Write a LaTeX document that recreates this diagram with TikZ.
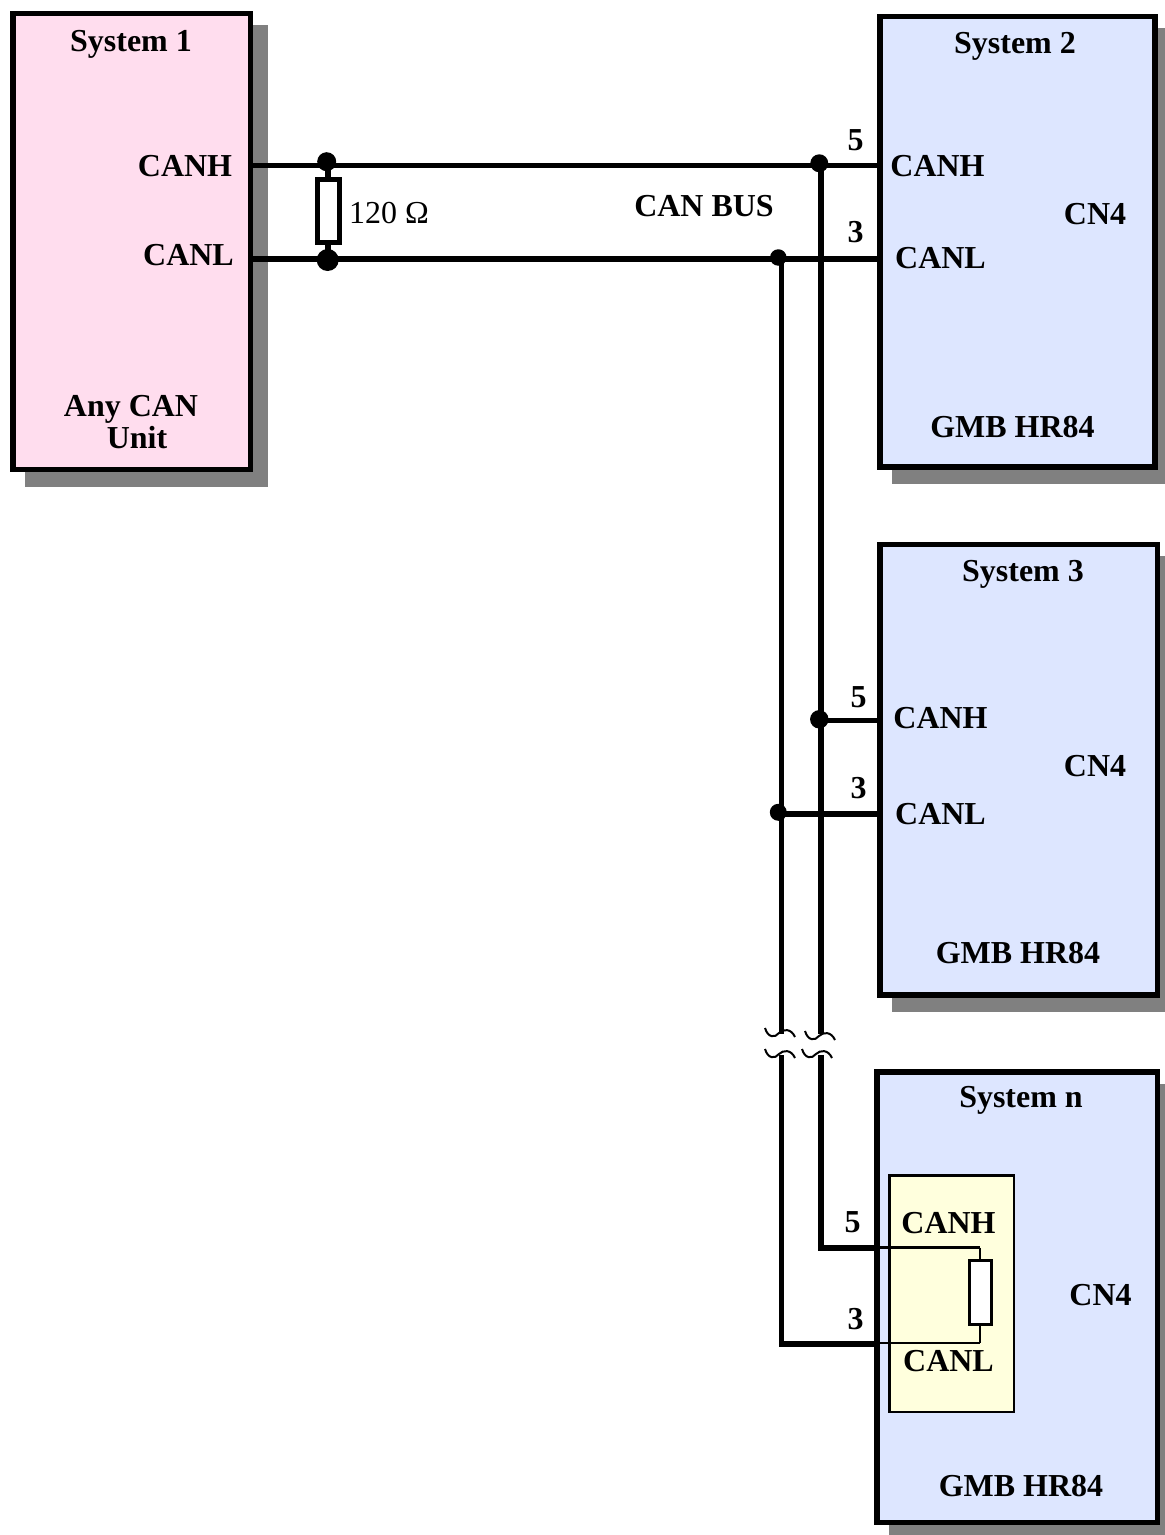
\documentclass[tikz,border=0pt]{standalone}
\usepackage{fontspec}
\setmainfont{Liberation Serif}
\usetikzlibrary{shadows}

\definecolor{sysone}{HTML}{FFDDEE}
\definecolor{sysblue}{HTML}{DDE6FF}
\definecolor{termbox}{HTML}{FFFFDD}

\tikzset{
  sysbox/.style={draw, line width=0.11cm, inner sep=0pt, outer sep=0pt, drop shadow={shadow xshift=0.29cm, shadow yshift=-0.29cm, draw=black!50, fill=black!50, line width=0.11cm, opacity=1}},
  wire/.style={line width=0.11cm},
  thinwire/.style={line width=0.055cm},
  dot/.style={circle, fill=black, inner sep=0pt, minimum size=0.36cm},
  res/.style={draw, fill=white, inner sep=0pt, outer sep=0pt},
  lab/.style={inner sep=0pt, font=\bfseries\fontsize{18.2}{18.2}\selectfont},
  brk/.style={line width=0.04cm}
}

\begin{document}
\begin{tikzpicture}[x=0.02cm, y=-0.02cm]
\useasboundingbox (0,0) rectangle (1165,1535);

\node[sysbox, fill=sysone, minimum width=4.75cm, minimum height=9.12cm] (sys1) at (131.75,241.5) {};
\node[sysbox, fill=sysblue, minimum width=5.51cm, minimum height=9.01cm] (sys2) at (1017.5,241.75) {};
\node[sysbox, fill=sysblue, minimum width=5.55cm, minimum height=9.01cm] (sys3) at (1018.75,769.75) {};
\node[sysbox, fill=sysblue, minimum width=5.61cm, minimum height=9.01cm] (sysn) at (1017.25,1297.25) {};
\node[draw, fill=termbox, line width=0.055cm, inner sep=0pt, outer sep=0pt, minimum width=2.49cm, minimum height=4.73cm] (term) at (951.75,1293.75) {};

% bus
\coordinate (canh1) at (250,165.5);
\coordinate (canl1) at (250,259);
\coordinate (canh3) at (821,720.5);
\coordinate (canl3) at (781,814);
\coordinate (brkh1) at (821,1034);
\coordinate (brkl1) at (781.5,1034);
\coordinate (brkh2) at (821,1055);
\coordinate (brkl2) at (781.5,1055);
\coordinate (cornh) at (821,1248);
\coordinate (cornl) at (781.5,1344);
\coordinate (hn) at (877,1248);
\coordinate (ln) at (877,1344);
\coordinate (rh) at (980,1247.5);
\coordinate (rl) at (980,1343);

\draw[wire] (canh1) -- (sys2.west |- canh1);
\draw[wire] (canl1) -- (sys2.west |- canl1);
\draw[wire] (brkh1 |- canh1) -- (brkh1);
\draw[wire] (brkl1 |- canl1) -- (brkl1);
\draw[wire] (canh3) -- (sys3.west |- canh3);
\draw[wire] (brkl1 |- canl3) -- (sys3.west |- canl3);
\draw[wire, line join=miter] (brkh2) -- (cornh) -- (hn);
\draw[wire, line join=miter] (brkl2) -- (cornl) -- (ln);
\draw[thinwire] (hn |- rh) -- (rh);
\draw[thinwire] (ln |- rl) -- (rl);

% resistors
\node[res, line width=0.1cm, minimum width=0.44cm, minimum height=1.27cm] (r1) at (328,210.8) {};
\draw[wire] (r1.north) -- (r1 |- canh1);
\draw[wire] (r1.south) -- (r1 |- canl1);
\draw[thinwire] (rh) -- (rl);
\node[res, line width=0.055cm, minimum width=0.44cm, minimum height=1.28cm] (r2) at (980.3,1292.5) {};

% junctions
\node[dot, minimum size=0.38cm] (jh1) at (326.7,161.7) {};
\node[dot, minimum size=0.44cm] (jl1) at (327.7,260) {};
\node[dot] (jh2) at (819.3,163.3) {};
\node[dot, minimum size=0.33cm] (jl2) at (778.3,257.5) {};
\node[dot, minimum size=0.37cm] (jh3) at (819.3,719.3) {};
\node[dot, minimum size=0.34cm] (jl3) at (778.3,812.3) {};

% break marks
\foreach \x/\y in {765/1028, 805/1031, 765/1049, 802/1049}
  \draw[brk] (\x,\y) .. controls (\x+3,\y+10) and (\x+10,\y+10) .. (\x+14,\y+5) .. controls (\x+18,\y+1) and (\x+26,\y+0) .. (\x+30,\y+9);

% system 1
\node[lab] (t1) at (131,44) {System 1};
\node[lab] (h1) at (185,166) {CANH};
\node[lab] (l1) at (188.5,255) {CANL};
\node[lab] (any) at (131,409) {Any CAN};
\node[lab] (unit) at (137,438) {Unit};
\node[inner sep=0pt, font=\fontsize{18.2}{18.2}\selectfont] (ohm) at (389,213) {120 Ω};
\node[lab] (bus) at (704,206) {CAN BUS};

% system 2
\node[lab] (t2) at (1015,46) {System 2};
\node[lab] (p52) at (855.5,140) {5};
\node[lab] (p32) at (855.5,232) {3};
\node[lab] (h2) at (937.5,166) {CANH};
\node[lab] (l2) at (940.5,258) {CANL};
\node[lab] (cn2) at (1095,214) {CN4};
\node[lab] (g2) at (1012.5,427) {GMB HR84};

% system 3
\node[lab] (t3) at (1023,574) {System 3};
\node[lab] (p53) at (858.5,697) {5};
\node[lab] (p33) at (858.5,788) {3};
\node[lab] (h3) at (940.5,718) {CANH};
\node[lab] (l3) at (940.5,814) {CANL};
\node[lab] (cn3) at (1095,766) {CN4};
\node[lab] (g3) at (1018,953) {GMB HR84};

% system n
\node[lab] (tn) at (1021,1100) {System n};
\node[lab] (p5n) at (852.5,1222) {5};
\node[lab] (p3n) at (855.5,1319) {3};
\node[lab] (hn2) at (948.5,1223) {CANH};
\node[lab] (ln2) at (948.5,1361) {CANL};
\node[lab] (cnn) at (1100.5,1295) {CN4};
\node[lab] (gn) at (1021,1486) {GMB HR84};
\end{tikzpicture}
\end{document}
